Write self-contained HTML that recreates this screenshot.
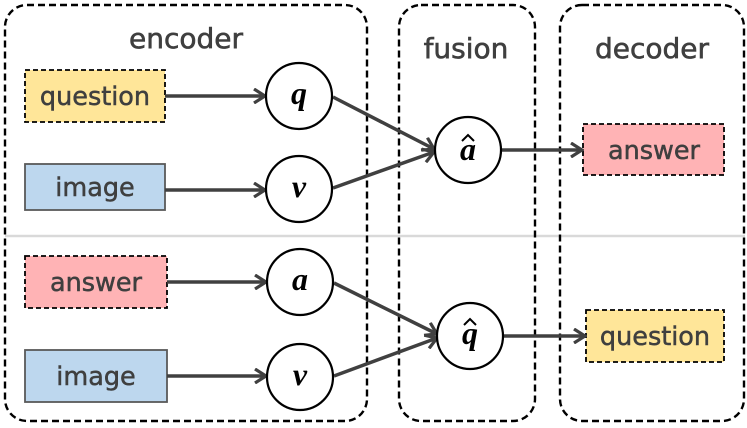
<!DOCTYPE html>
<html><head><style>body{margin:0;background:#fff}svg{display:block}text{font-family:"DejaVu Sans",sans-serif;fill:#3f3f3f}</style></head><body>
<svg width="747" height="428" viewBox="0 0 747 428" xmlns="http://www.w3.org/2000/svg">
<defs><marker id="ar" markerWidth="14" markerHeight="16" refX="12" refY="8" orient="auto" markerUnits="userSpaceOnUse" viewBox="0 0 14 16"><path d="M1,1 L12,8 L1,15" fill="none" stroke="#404040" stroke-width="3.2"/></marker></defs>
<line x1="5" y1="236" x2="745" y2="236" stroke="#d9d9d9" stroke-width="2.5"/>
<g fill="none" stroke="#000" stroke-width="2.4" stroke-dasharray="7,4">
<rect x="5" y="5" width="362" height="416" rx="22"/>
<rect x="399" y="5" width="136" height="416" rx="22"/>
<rect x="560" y="5" width="184" height="416" rx="22"/>
</g>
<g stroke="#3f3f3f" stroke-width="0.6">
<text x="186" y="48" font-size="28" text-anchor="middle">encoder</text>
<text x="466" y="58" font-size="28" text-anchor="middle">fusion</text>
<text x="652" y="58" font-size="28" text-anchor="middle">decoder</text>
</g>
<g stroke-width="1.8">
<rect x="25" y="70" width="140" height="52" fill="#ffe699" stroke="#000" stroke-dasharray="5,3"/>
<rect x="25" y="164" width="140" height="46" fill="#bdd7ee" stroke="#595959"/>
<rect x="25" y="256" width="142" height="52" fill="#ffb3b5" stroke="#000" stroke-dasharray="5,3"/>
<rect x="25" y="350" width="142" height="52" fill="#bdd7ee" stroke="#595959"/>
<rect x="583" y="124" width="141" height="51" fill="#ffb3b5" stroke="#000" stroke-dasharray="5,3"/>
<rect x="586" y="310" width="138" height="52" fill="#ffe699" stroke="#000" stroke-dasharray="5,3"/>
</g>
<g font-size="25.5" text-anchor="middle" stroke="#3f3f3f" stroke-width="0.5">
<text x="95" y="105">question</text>
<text x="95" y="196">image</text>
<text x="96" y="291">answer</text>
<text x="96" y="385">image</text>
<text x="654" y="159">answer</text>
<text x="655" y="345">question</text>
</g>
<g stroke="#404040" stroke-width="3.5" fill="none" marker-end="url(#ar)">
<line x1="165" y1="96" x2="265" y2="96"/>
<line x1="165" y1="190" x2="265" y2="190"/>
<line x1="167" y1="282" x2="266" y2="282"/>
<line x1="167" y1="376" x2="266" y2="376"/>
<line x1="333" y1="97" x2="434" y2="149"/>
<line x1="333" y1="188" x2="434" y2="152"/>
<line x1="334" y1="283" x2="437" y2="334"/>
<line x1="334" y1="376" x2="437" y2="338"/>
<line x1="502" y1="150" x2="582" y2="150"/>
<line x1="504" y1="336" x2="585" y2="336"/>
</g>
<g fill="#fff" stroke="#000" stroke-width="2.2">
<circle cx="299" cy="96" r="33"/>
<circle cx="299" cy="189" r="33"/>
<circle cx="300" cy="282" r="33"/>
<circle cx="300" cy="377" r="33"/>
<circle cx="468" cy="150" r="33"/>
<circle cx="470" cy="336" r="33"/>
</g>
<g font-style="italic" font-weight="bold" font-size="32" text-anchor="middle">
<text x="299" y="104" style="fill:#000;font-family:'Liberation Serif',serif">q</text>
<text x="299" y="197" style="fill:#000;font-family:'Liberation Serif',serif">v</text>
<text x="300" y="290" style="fill:#000;font-family:'Liberation Serif',serif">a</text>
<text x="300" y="385" style="fill:#000;font-family:'Liberation Serif',serif">v</text>
<text x="468" y="160" style="fill:#000;font-family:'Liberation Serif',serif">a</text>
<text x="470" y="344" style="fill:#000;font-family:'Liberation Serif',serif">q</text>
</g>
<g fill="none" stroke="#000" stroke-width="2">
<path d="M462,141 L468,135 L474,141"/>
<path d="M464,325 L470,319 L476,325"/>
</g>
</svg>
</body></html>
